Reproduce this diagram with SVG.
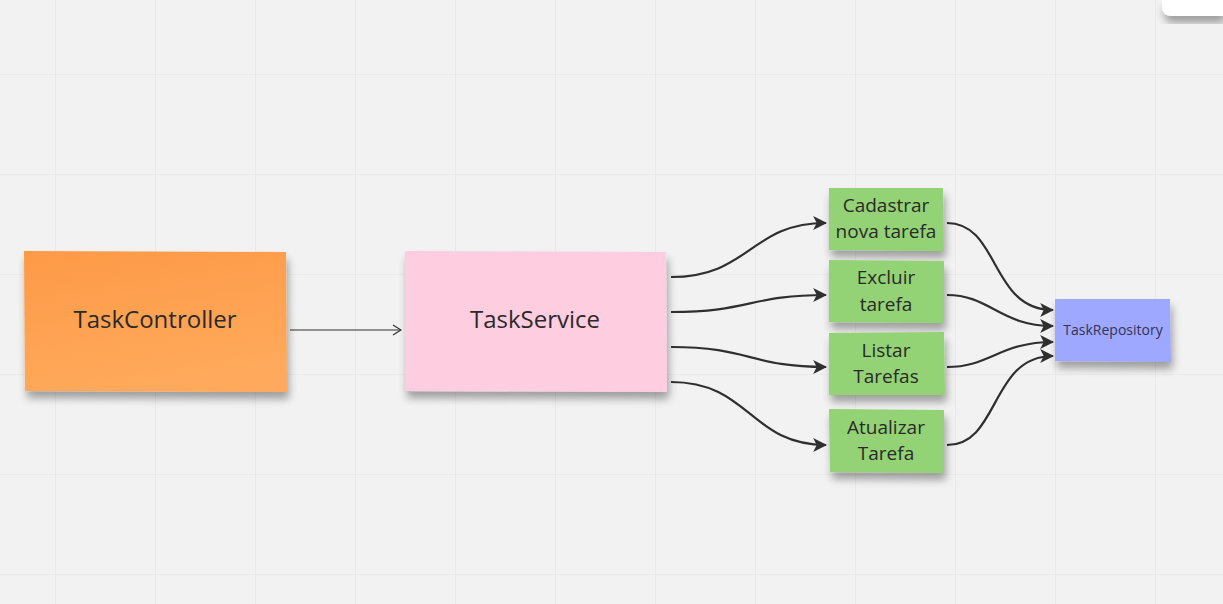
<svg xmlns="http://www.w3.org/2000/svg" width="1223" height="604" viewBox="0 0 1223 604">
<defs>
<pattern id="grid" x="55" y="74" width="100" height="100" patternUnits="userSpaceOnUse">
<path d="M0,0 H100 M0,0 V100" stroke="#e3e3e3" stroke-width="1.2" fill="none"/>
</pattern>
<filter id="shadow" x="-20%" y="-20%" width="140%" height="170%">
<feGaussianBlur in="SourceAlpha" stdDeviation="4"/>
<feOffset dx="2" dy="7" result="b"/>
<feComponentTransfer><feFuncA type="linear" slope="0.35"/></feComponentTransfer>
<feMerge><feMergeNode/><feMergeNode in="SourceGraphic"/></feMerge>
</filter>
<linearGradient id="gOrange" x1="0" y1="0" x2="0.3" y2="1">
<stop offset="0" stop-color="#fd9a47"/>
<stop offset="1" stop-color="#ffa95b"/>
</linearGradient>
<marker id="head" viewBox="0 0 12 12" refX="11" refY="6" markerWidth="14" markerHeight="14" markerUnits="userSpaceOnUse" orient="auto">
<path d="M0,0 L12,6 L0,12 L3,6 z" fill="#2f2f2f"/>
</marker>
<marker id="open" viewBox="0 0 10 12" refX="9" refY="6" markerWidth="10" markerHeight="12" markerUnits="userSpaceOnUse" orient="auto">
<path d="M1,1 L9,6 L1,11" fill="none" stroke="#2f2f2f" stroke-width="1.2"/>
</marker>
<style>
.t{font-family:"Open Sans","Liberation Sans",sans-serif;fill:#2a2a2a;text-anchor:middle;}
.big{font-size:24px;}
.mid{font-size:19px;}
.sm{font-size:14px;fill:#333355;}
.c{fill:none;stroke:#2f2f2f;stroke-width:2.2;marker-end:url(#head);}
</style>
</defs>
<rect width="1223" height="604" fill="#f2f2f2"/>
<rect width="1223" height="604" fill="url(#grid)"/>
<g id="topbox" filter="url(#shadow)">
<path d="M1162,0 H1223 V16 H1172 Q1162,16 1162,6 Z" fill="#ffffff"/>
</g>
<g id="connectors">
<path d="M290,330 H401" fill="none" stroke="#2f2f2f" stroke-width="1" marker-end="url(#open)"/>
<path class="c" d="M671,277 C750,277 750,223 826,223"/>
<path class="c" d="M671,312 C750,312 750,295 826,295"/>
<path class="c" d="M671,347 C750,347 750,367 826,367"/>
<path class="c" d="M671,382 C750,382 750,445 826,445"/>
<path class="c" d="M947,223 C1000,223 990,310 1053,310"/>
<path class="c" d="M947,295 C990,295 1000,326 1053,326"/>
<path class="c" d="M947,367 C990,367 1000,342 1053,342"/>
<path class="c" d="M947,445 C1000,445 990,356 1053,356"/>
</g>
<g id="taskcontroller">
<path d="M24,251 L286,252 L287,392 L25,391 Z" fill="url(#gOrange)" filter="url(#shadow)"/>
<text class="t big" x="155" y="328">TaskController</text>
</g>
<g id="taskservice">
<path d="M405,251 L666,252 L667,392 L405,391 Z" fill="#ffcde0" filter="url(#shadow)"/>
<text class="t big" x="535" y="328">TaskService</text>
</g>
<g id="cadastrar">
<path d="M829,188 L943,188 L944,251 L829,250 Z" fill="#93d275" filter="url(#shadow)"/>
<text class="t mid" x="886" y="212">Cadastrar</text>
<text class="t mid" x="886" y="238">nova tarefa</text>
</g>
<g id="excluir">
<path d="M829,260 L944,261 L944,323 L829,322 Z" fill="#93d275" filter="url(#shadow)"/>
<text class="t mid" x="886" y="284">Excluir</text>
<text class="t mid" x="886" y="311">tarefa</text>
</g>
<g id="listar">
<path d="M829,333 L944,332 L945,395 L829,395 Z" fill="#93d275" filter="url(#shadow)"/>
<text class="t mid" x="886" y="357">Listar</text>
<text class="t mid" x="886" y="383">Tarefas</text>
</g>
<g id="atualizar">
<path d="M829,409 L944,410 L944,473 L830,472 Z" fill="#93d275" filter="url(#shadow)"/>
<text class="t mid" x="886" y="434">Atualizar</text>
<text class="t mid" x="886" y="460">Tarefa</text>
</g>
<g id="taskrepository">
<path d="M1055,299 L1170,299 L1171,362 L1055,361 Z" fill="#9ea8ff" filter="url(#shadow)"/>
<text class="t sm" x="1113" y="335">TaskRepository</text>
</g>
</svg>
